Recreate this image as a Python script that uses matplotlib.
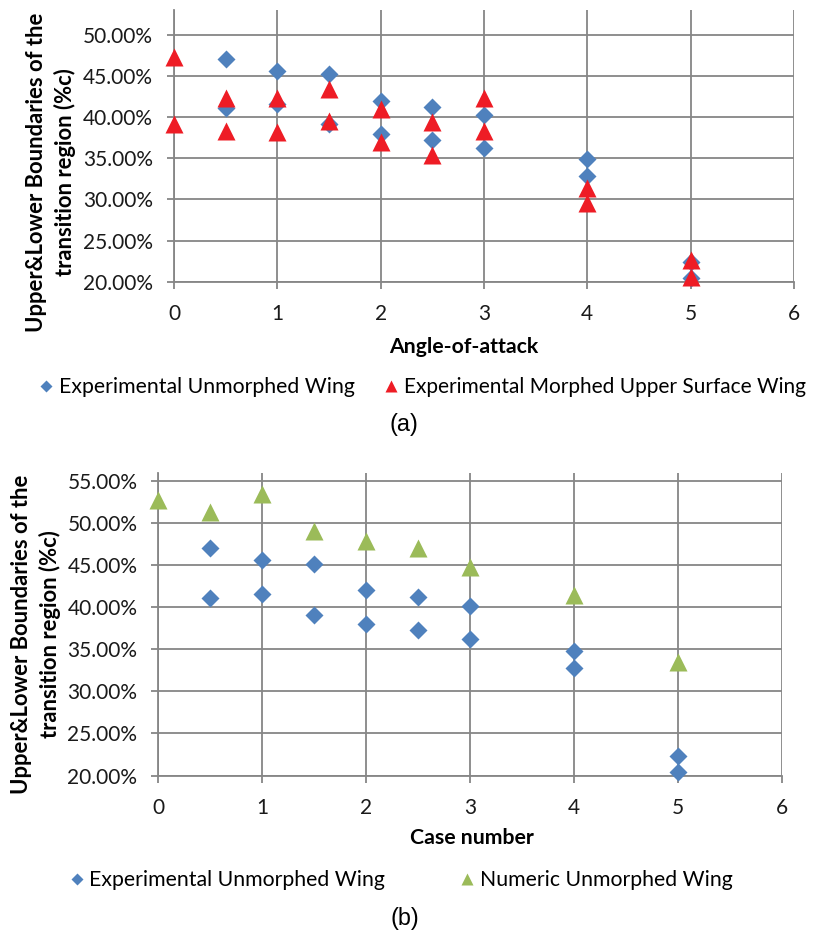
import matplotlib
matplotlib.use("Agg")
import matplotlib.pyplot as plt
from matplotlib.ticker import FuncFormatter, MultipleLocator

# ---- data (values in % of chord) ----
unmorphed_x = [0.5, 0.5, 1, 1, 1.5, 1.5, 2, 2, 2.5, 2.5, 3, 3, 4, 4, 5, 5]
unmorphed_y = [47.05, 41.05, 45.6, 41.6, 45.2, 39.1, 42.0, 38.0, 41.25, 37.25,
               40.2, 36.2, 34.85, 32.8, 22.35, 20.45]

morphed_x = [0, 0, 0.5, 0.5, 1, 1, 1.5, 1.5, 2, 2, 2.5, 2.5, 3, 3, 4, 4, 5, 5]
morphed_y = [47.3, 39.2, 42.35, 38.3, 42.3, 38.2, 43.4, 39.5, 41.0, 37.0,
             39.4, 35.35, 42.3, 38.3, 31.4, 29.5, 22.6, 20.6]

numeric_x = [0, 0.5, 1, 1.5, 2, 2.5, 3, 4, 5]
numeric_y = [52.75, 51.3, 53.5, 49.05, 47.85, 47.0, 44.8, 41.5, 33.5]

ylabel_text = "Upper&Lower Boundaries of the\ntransition region (%c)"
label_a = ["Experimental Unmorphed Wing", "Experimental Morphed Upper Surface Wing"]
label_b = ["Experimental Unmorphed Wing", "Numeric Unmorphed Wing"]

BLUE = "#4F81BD"
RED = "#EE1C25"
GREEN = "#9BBB59"
GRID = "#868686"
FONT = "Lato"
TICK_FS = 15
TEXT_FS = 15.3
YLAB_FS = 15.8
W, H = 813, 936

fig = plt.figure(figsize=(W / 100, H / 100), dpi=100)


def style_axes(ax, ymin, ymax):
    ax.set_xlim(0, 6)
    ax.set_ylim(ymin, ymax)
    ax.xaxis.set_major_locator(MultipleLocator(1))
    ax.yaxis.set_major_locator(MultipleLocator(5))
    ax.yaxis.set_major_formatter(FuncFormatter(lambda v, p: f"{v:.2f}%"))
    ax.grid(True, color=GRID, linewidth=1.3)
    ax.set_axisbelow(True)
    for side in ("top", "right"):
        ax.spines[side].set_visible(False)
    for side in ("left", "bottom"):
        ax.spines[side].set_color(GRID)
        ax.spines[side].set_linewidth(1.3)
    ax.tick_params(axis="both", direction="out", length=5, width=1.3,
                   color=GRID, labelsize=TICK_FS, labelcolor="#1a1a1a")
    ax.tick_params(axis="y", pad=10)
    ax.tick_params(axis="x", pad=11)
    for lab in ax.get_xticklabels() + ax.get_yticklabels():
        lab.set_fontfamily(FONT)


def add_legend(handle, text, marker_x_px, y_px, size=TEXT_FS):
    # left edge of the handle box so that the marker sits at marker_x_px
    hl = 0.8
    left = marker_x_px - hl * size * 100 / 72 / 2
    fig.legend(handles=[handle], labels=[text], loc="center left",
               bbox_to_anchor=(left / W, 1 - y_px / H), frameon=False,
               borderpad=0, borderaxespad=0, handlelength=hl,
               handletextpad=0.2, markerscale=0.7,
               prop={"family": FONT, "size": size})


# ---- (a) angle-of-attack ----
ax1 = fig.add_axes([174 / W, 1 - 281.7 / H, 620 / W, 271.7 / H])
style_axes(ax1, 20, 53)
h1, = ax1.plot(unmorphed_x, unmorphed_y, "D", color=BLUE, ms=9.2, mec="none",
               clip_on=False, zorder=3)
h2, = ax1.plot(morphed_x, morphed_y, "^", color=RED, ms=12.5, mec="none",
               clip_on=False, zorder=4)
fig.text(464 / W, 1 - 347 / H, "Angle-of-attack", ha="center", va="center",
         fontsize=TEXT_FS, fontweight="bold", family=FONT)
fig.text(51 / W, 1 - 172 / H, ylabel_text, rotation=90, ha="center",
         va="center", multialignment="center", fontsize=YLAB_FS,
         linespacing=1.36, fontweight="bold", family=FONT)
add_legend(h1, label_a[0], 46, 387)
add_legend(h2, label_a[1], 391, 387, size=15.0)
fig.text(404 / W, 1 - 424 / H, "(a)", ha="center", va="center", fontsize=16.8,
         family="Liberation Sans")

# ---- (b) case number ----
ax2 = fig.add_axes([158.3 / W, 1 - 775.5 / H, 623.7 / W, 302.8 / H])
style_axes(ax2, 20, 56)
h3, = ax2.plot(unmorphed_x, unmorphed_y, "D", color=BLUE, ms=9.2, mec="none",
               clip_on=False, zorder=3)
h4, = ax2.plot(numeric_x, numeric_y, "^", color=GREEN, ms=12.5, mec="none",
               clip_on=False, zorder=4)
fig.text(472 / W, 1 - 838 / H, "Case number", ha="center", va="center",
         fontsize=TEXT_FS, fontweight="bold", family=FONT)
fig.text(36 / W, 1 - 634 / H, ylabel_text, rotation=90, ha="center",
         va="center", multialignment="center", fontsize=YLAB_FS,
         linespacing=1.36, fontweight="bold", family=FONT)
add_legend(h3, label_b[0], 76.5, 880)
add_legend(h4, label_b[1], 467, 880)
fig.text(405 / W, 1 - 919 / H, "(b)", ha="center", va="center", fontsize=16.8,
         family="Liberation Sans")

fig.savefig("out.png", dpi=100)
